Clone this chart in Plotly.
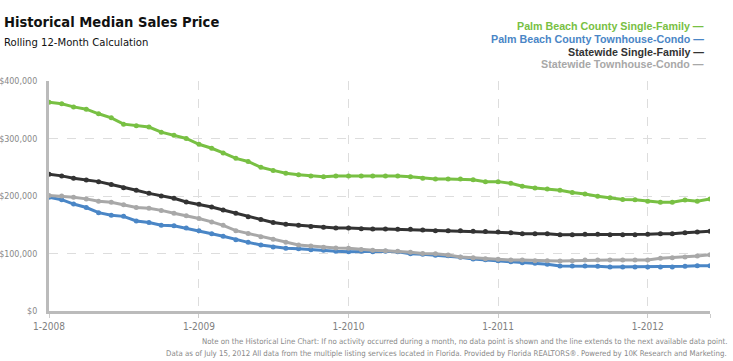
import plotly.graph_objects as go

months = [f"{2008 + i // 12}-{i % 12 + 1:02d}-01" for i in range(54)]

pb_sf = [363, 360.5, 355, 351, 343, 336, 325, 322, 320, 311, 305.5, 300, 290, 283, 275, 265.5, 260,
         250, 244.5, 239.5, 237, 235, 233.6, 235, 235, 235, 235, 235, 235, 233.6, 231, 229.5, 229.5, 229.5, 228.4, 225,
         225, 222, 217, 214, 212, 210, 206, 203.5, 199.5, 197, 194, 193.6, 191, 189, 189, 193, 191, 195]
pb_tc = [198, 193.6, 186, 180, 171, 166.4, 164.6, 156.5, 154, 149, 148.4, 144.3, 139.7, 134.5, 130, 124, 119.4,
         114.8, 111.3, 109, 108.4, 106.6, 105.5, 103.8, 103.2, 103.8, 103.2, 103.8, 103.2, 99.6, 98.5, 96.8, 96.2, 93.3, 90.4, 89,
         87.5, 85.8, 84, 82.9, 81.2, 78.3, 78.3, 78.3, 77.7, 76.5, 76.5, 76.5, 76.5, 76.5, 76.5, 77.7, 78.9, 78.9]
st_sf = [237.7, 235, 231, 228, 225, 220, 214.5, 210, 204.6, 200, 196, 189.6, 185.5, 181, 175.6, 170, 164,
         159, 154, 150.7, 149, 147, 145.5, 144.3, 144.3, 143, 142.6, 142.6, 142, 142, 141, 139.7, 139.7, 139.7, 138.6, 138.3,
         137.4, 136, 134.5, 134.5, 134.5, 132.7, 132.7, 133.3, 133.3, 132.7, 132.7, 132.7, 133.3, 134.5, 134.5, 136, 137.4, 138.6]
st_tc = [201, 200, 198, 195, 191, 189, 185, 180, 178.5, 175, 170, 165.7, 161, 155, 149, 139.7, 135,
         129, 125, 119.4, 114.8, 113, 110.7, 109.6, 109, 107, 105.5, 105, 104, 102, 100, 99.6, 97.4, 94, 92.7, 91,
         90, 88.7, 88.7, 87.5, 87.5, 87, 87.5, 88.7, 88.7, 88.7, 88.7, 88.7, 88.7, 91.6, 92.7, 94, 95.7, 98]

series_names = ["Palm Beach County Single-Family", "Palm Beach County Townhouse-Condo",
                "Statewide Single-Family", "Statewide Townhouse-Condo"]
series_vals = [pb_sf, pb_tc, st_sf, st_tc]
colors = ["#78c043", "#4a86c6", "#333333", "#a8a8a8"]

tick_vals = ["2008-01-01", "2009-01-01", "2010-01-01", "2011-01-01", "2012-01-01"]
tick_text = ["1-2008", "1-2009", "1-2010", "1-2011", "1-2012"]

NARROW = "DejaVu Sans Condensed, Liberation Sans Narrow, Arial Narrow, sans-serif"
SANS = "Liberation Sans, Arial, Helvetica, sans-serif"

L, R, T, B = 49, 23, 81, 50
PW, PH = 733 - L - R, 361 - T - B


def px(x):
    return (x - L) / PW


def py(y):
    return (361 - B - y) / PH


fig = go.Figure()
draw_order = [0, 2, 1, 3]
for k in draw_order:
    fig.add_trace(go.Scatter(
        x=months, y=[v * 1000 for v in series_vals[k]], mode="lines+markers",
        name=series_names[k], line=dict(color=colors[k], width=3),
        marker=dict(color=colors[k], size=5), showlegend=False, hoverinfo="x+y"))

fig.update_layout(
    width=733, height=361,
    margin=dict(l=L, r=R, t=T, b=B, autoexpand=False),
    paper_bgcolor="white", plot_bgcolor="white",
    font=dict(family=NARROW, color="#888888", size=10),
)
fig.update_xaxes(
    range=["2008-01-01", "2012-06-01"], tickvals=tick_vals + ["2012-06-01"], ticktext=tick_text + [""],
    showgrid=True, gridcolor="#dddddd", griddash="dash", gridwidth=1,
    showline=True, linecolor="#bbbbbb", linewidth=3,
    ticks="outside", ticklen=4, tickcolor="#cccccc", automargin=False,
    tickfont=dict(family=NARROW, size=10, color="#808080"), zeroline=False)
fig.update_yaxes(
    range=[0, 400000], dtick=100000, tickprefix="$", tickformat=",",
    showgrid=True, gridcolor="#dddddd", griddash="dash", gridwidth=1,
    showline=True, linecolor="#bbbbbb", linewidth=3, ticks="", ticklabelstandoff=7, automargin=False,
    tickfont=dict(family=NARROW, size=8.9, color="#888888"), zeroline=False)

fig.add_annotation(text="<b>Historical Median Sales Price</b>", xref="paper", yref="paper",
                   x=px(2), y=py(22), xanchor="left", yanchor="middle",
                   showarrow=False, font=dict(family=NARROW, size=14.6, color="#111111"))
fig.add_annotation(text="Rolling 12-Month Calculation", xref="paper", yref="paper",
                   x=px(2), y=py(42), xanchor="left", yanchor="middle",
                   showarrow=False, font=dict(family=NARROW, size=11.2, color="#111111"))

legend_y = [26, 39, 52, 64]
for name, c, yy in zip(series_names, colors, legend_y):
    fig.add_annotation(text=f"<b>{name} —</b>", xref="paper", yref="paper",
                       x=px(706), y=py(yy), xanchor="right", yanchor="middle",
                       showarrow=False, font=dict(family=SANS, size=10.7, color=c))

fig.add_annotation(text="Note on the Historical Line Chart: If no activity occurred during a month, no data point is shown and the line extends to the next available data point.",
                   xref="paper", yref="paper", x=px(729), y=py(341),
                   xanchor="right", yanchor="middle", showarrow=False,
                   font=dict(family=NARROW, size=7.8, color="#888888"))
fig.add_annotation(text="Data as of July 15, 2012 All data from the multiple listing services located in Florida. Provided by Florida REALTORS®. Powered by 10K Research and Marketing.",
                   xref="paper", yref="paper", x=px(729), y=py(353),
                   xanchor="right", yanchor="middle", showarrow=False,
                   font=dict(family=NARROW, size=7.8, color="#888888"))

fig.write_html("out.html", config={"displayModeBar": False},
               post_script="document.body.style.margin='0';")
